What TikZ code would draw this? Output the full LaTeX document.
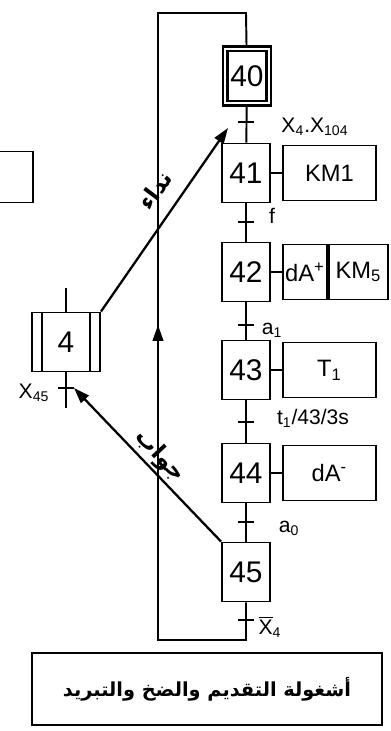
\documentclass[tikz,border=0pt]{standalone}
\usepackage{fontspec}
\setmainfont{Liberation Sans}
\newfontfamily\arabicfont[Script=Arabic]{DejaVu Sans}
\TeXXeTstate=1
\usetikzlibrary{positioning, arrows.meta}

\begin{document}
\begin{tikzpicture}[
    x=0.02cm, y=-0.02cm,
    node distance=0.22cm,
    etape/.style={rectangle, draw, line width=1.1pt, minimum width=0.96cm, minimum height=1.18cm, inner sep=0pt, font=\fontsize{17}{18}\selectfont},
    action/.style={rectangle, draw, line width=1.1pt, minimum width=1.86cm, minimum height=1.1cm, inner sep=0pt, font=\fontsize{13.5}{15}\selectfont},
    lien/.style={line width=1.1pt},
    recep/.style={line width=1.5pt},
    lbl/.style={inner sep=1pt, font=\fontsize{12}{13}\selectfont},
    arr/.style={-{Triangle[length=9pt, width=6pt]}, line width=1.3pt},
    ar/.style={inner sep=0pt, font=\arabicfont\bfseries\fontsize{13}{14}\selectfont},
]
    \useasboundingbox (0,0) rectangle (390,731);

    \node[etape, double, double distance=1.3pt, line width=1.3pt, minimum width=0.87cm, minimum height=1.09cm] (e40) at (247,76) {40};
    \node[etape] (e41) at (246,173) {41};
    \node[etape] (e42) at (246,272) {42};
    \node[etape] (e43) at (246,370) {43};
    \node[etape] (e44) at (246,473) {44};
    \node[etape] (e45) at (246,572) {45};

    \node[action, right=of e41] (a41) {KM1};
    \node[action, right=of e42, minimum width=0.88cm] (a42a) {dA\textsuperscript{+}};
    \node[action, right=0pt of a42a, minimum width=1.18cm] (a42b) {KM\textsubscript{5}};
    \node[action, right=of e43] (a43) {T\textsubscript{1}};
    \node[action, right=of e44] (a44) {dA\textsuperscript{-}};

    \node[etape, minimum width=1.36cm] (e4) at (66,342) {4};
    \draw[lien] ([shift={(11,0)}]e4.north west) -- ([shift={(11,0)}]e4.south west);
    \draw[lien] ([shift={(-11,0)}]e4.north east) -- ([shift={(-11,0)}]e4.south east);

    \node[draw, line width=1.1pt, minimum width=1.2cm, minimum height=1.02cm] (cadre) at (3,177) {};

    \coordinate (e4in) at (66,288);
    \coordinate (e4out) at (66,408);
    \coordinate (b1) at (246,640);
    \coordinate (b2) at (158,640);
    \coordinate (b3) at (158,13);
    \coordinate (b4) at (246,13);
    \coordinate (m1) at (158,352);
    \coordinate (m2) at (158,325);
    \coordinate (p41) at (228,128);
    \coordinate (p4) at (74,388);

    \draw[lien] (e40) -- (e41);
    \draw[lien] (e41) -- (e42);
    \draw[lien] (e42) -- (e43);
    \draw[lien] (e43) -- (e44);
    \draw[lien] (e44) -- (e45);
    \draw[lien] (e45) -- (b1) -- (b2) -- (b3) -- (b4) -- (e40);
    \draw[arr] (m1) -- (m2);

    \draw[lien] (e41) -- (a41);
    \draw[lien] (e42) -- (a42a);
    \draw[lien] (e43) -- (a43);
    \draw[lien] (e44) -- (a44);

    \draw[lien] (e4in) -- (e4);
    \draw[lien] (e4) -- (e4out);

    \foreach \n/\x/\y in {t40/246/122, t41/246/222, t42/246/325, t43/246/422, t44/246/522, t45/246/620, t4/66/388} {
        \coordinate (\n) at (\x,\y);
        \draw[recep] ([shift={(-8,0)}]\n) -- ([shift={(8,0)}]\n);
    }

    \node[lbl] (l40) at (315,127) {X\textsubscript{4}.X\textsubscript{104}};
    \node[lbl] (l41) at (272,216) {f};
    \node[lbl] (l42) at (272,330) {a\textsubscript{1}};
    \node[lbl] (l43) at (313,418) {t\textsubscript{1}/43/3s};
    \node[lbl] (l44) at (289,528) {a\textsubscript{0}};
    \node[lbl] (l45) at (270,627) {$\overline{\mbox{X}}$\textsubscript{4}};
    \node[lbl] (l4) at (34,393) {X\textsubscript{45}};

    \draw[arr] (e4.north east) -- (p41);
    \draw[arr] (e45.north west) -- (p4);
    \node[ar, rotate=53] (appel) at (155,190) {\beginR نداء\endR};
    \node[ar, rotate=-47] (reponse) at (160,456) {\beginR جواب\endR};

    \node[draw, line width=1.1pt, minimum width=7cm, minimum height=1.44cm, font=\arabicfont\bfseries\fontsize{11}{13}\selectfont] (titre) at (207,689) {\beginR أشغولة التقديم والضخ والتبريد\endR};
\end{tikzpicture}
\end{document}
